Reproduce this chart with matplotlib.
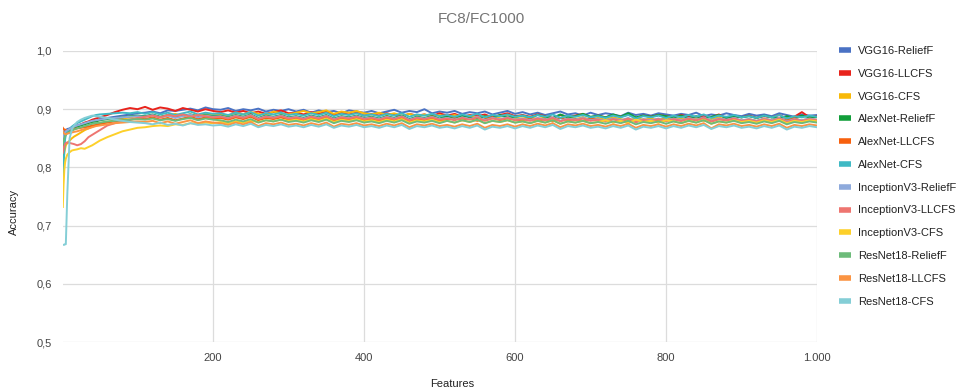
import numpy as np
import matplotlib
matplotlib.use("Agg")
import matplotlib.pyplot as plt
from matplotlib.lines import Line2D

# ---------------- data (accuracy in per-mille) ----------------
features_early = [1, 2, 3, 4, 5, 7, 10, 13, 16, 20, 25, 30, 35, 40, 45, 50, 60, 70, 80, 90, 100]
features_late = list(range(110, 1001, 10))
features = features_early + features_late

series_names = ["VGG16-ReliefF", "VGG16-LLCFS", "VGG16-CFS", "AlexNet-ReliefF", "AlexNet-LLCFS",
                "AlexNet-CFS", "InceptionV3-ReliefF", "InceptionV3-LLCFS", "InceptionV3-CFS",
                "ResNet18-ReliefF", "ResNet18-LLCFS", "ResNet18-CFS"]

vgg16_relieff = [858, 862, 860, 863, 864, 866, 867, 869, 870, 872, 874, 876, 878, 880, 879, 883, 885, 887, 889, 891, 893,
                 894, 896, 893, 898, 897, 899, 901, 898, 903, 900,
                 899, 902, 897, 900, 898, 901, 896, 899, 897, 900,
                 896, 899, 894, 898, 895, 897, 893, 898, 896, 894,
                 897, 893, 896, 899, 894, 897, 895, 900, 893, 896,
                 894, 897, 892, 895, 893, 896, 891, 894, 897, 892,
                 895, 891, 894, 890, 893, 896, 891, 893, 889, 894,
                 890, 893, 891, 888, 894, 890, 892, 889, 893, 891,
                 889, 892, 890, 894, 888, 891, 889, 893, 890, 888,
                 892, 889, 891, 888, 893, 890, 887, 891, 889, 890]
vgg16_llcfs = [845, 850, 853, 855, 858, 861, 864, 866, 868, 871, 874, 877, 879, 882, 884, 886, 890, 895, 899, 902, 900,
               904, 899, 903, 901, 897, 902, 899, 896, 900, 897,
               895, 898, 894, 897, 893, 896, 892, 895, 898, 893,
               894, 891, 895, 892, 896, 890, 893, 891, 894, 889,
               892, 889, 893, 890, 887, 892, 889, 891, 888, 893,
               889, 892, 887, 890, 888, 891, 886, 890, 893, 888,
               890, 887, 891, 888, 885, 890, 887, 889, 892, 886,
               889, 886, 890, 887, 891, 885, 889, 887, 890, 888,
               886, 890, 887, 885, 889, 886, 891, 884, 888, 886,
               889, 885, 888, 886, 890, 884, 887, 895, 886, 888]
vgg16_cfs = [790, 810, 825, 832, 838, 842, 846, 850, 853, 856, 860, 864, 867, 870, 872, 874, 878, 881, 884, 886, 888,
             887, 890, 886, 889, 892, 888, 891, 889, 893, 890,
             892, 889, 894, 891, 895, 892, 890, 896, 893, 891,
             894, 897, 893, 895, 898, 892, 896, 894, 897, 893,
             891, 894, 890, 893, 889, 892, 888, 891, 887, 890,
             887, 890, 886, 889, 885, 888, 884, 887, 890, 885,
             884, 887, 883, 886, 882, 885, 888, 883, 886, 882,
             885, 882, 886, 883, 880, 885, 882, 884, 881, 886,
             882, 885, 881, 884, 880, 883, 886, 881, 884, 880,
             883, 880, 884, 881, 885, 879, 883, 881, 884, 882]
alexnet_relieff = [810, 835, 848, 855, 859, 862, 864, 866, 868, 870, 872, 874, 876, 878, 879, 881, 883, 885, 886, 888, 889,
                   888, 891, 887, 890, 886, 889, 891, 887, 890, 888,
                   889, 886, 890, 887, 891, 885, 889, 887, 890, 886,
                   888, 885, 889, 886, 890, 884, 888, 886, 889, 885,
                   887, 884, 888, 885, 889, 883, 887, 885, 888, 884,
                   888, 885, 889, 886, 884, 888, 885, 890, 886, 887,
                   889, 886, 890, 887, 885, 891, 886, 888, 892, 887,
                   889, 886, 891, 887, 893, 886, 889, 887, 890, 888,
                   886, 889, 885, 888, 884, 887, 890, 885, 888, 886,
                   888, 885, 889, 886, 884, 888, 885, 889, 886, 887]
alexnet_llcfs = [868, 866, 865, 865, 864, 864, 865, 866, 866, 867, 868, 869, 870, 872, 873, 875, 877, 879, 881, 882, 884,
                 883, 886, 882, 885, 881, 884, 887, 883, 886, 884,
                 885, 882, 886, 883, 887, 881, 885, 883, 886, 882,
                 884, 881, 885, 882, 886, 880, 884, 882, 885, 881,
                 883, 880, 884, 881, 885, 879, 883, 881, 884, 880,
                 882, 885, 881, 884, 880, 883, 886, 881, 884, 882,
                 881, 884, 880, 883, 879, 885, 881, 883, 880, 884,
                 882, 879, 883, 880, 884, 878, 882, 880, 883, 881,
                 883, 880, 884, 881, 885, 879, 883, 881, 884, 880,
                 882, 879, 883, 880, 884, 881, 885, 879, 882, 881]
alexnet_cfs = [770, 800, 830, 848, 856, 862, 866, 870, 873, 876, 879, 882, 885, 888, 890, 891, 892, 893, 894, 893, 895,
               892, 895, 891, 894, 890, 893, 896, 891, 894, 892,
               893, 890, 894, 891, 895, 889, 893, 891, 894, 890,
               892, 889, 893, 890, 894, 888, 892, 890, 893, 889,
               891, 888, 892, 889, 893, 887, 891, 889, 892, 888,
               890, 887, 891, 888, 892, 886, 890, 888, 891, 887,
               889, 886, 890, 887, 891, 885, 889, 887, 890, 886,
               888, 885, 889, 886, 890, 884, 888, 886, 889, 885,
               889, 886, 890, 887, 891, 885, 889, 887, 890, 886,
               888, 885, 889, 886, 890, 884, 888, 886, 889, 887]
inceptionv3_relieff = [850, 855, 858, 860, 862, 864, 866, 868, 870, 872, 874, 876, 878, 880, 881, 882, 884, 885, 886, 887, 888,
                       887, 890, 886, 889, 885, 888, 891, 886, 889, 887,
                       888, 885, 889, 886, 890, 884, 888, 886, 889, 885,
                       887, 884, 888, 885, 889, 883, 887, 885, 888, 884,
                       886, 883, 887, 884, 888, 882, 886, 884, 887, 883,
                       885, 882, 886, 883, 887, 881, 885, 883, 886, 882,
                       884, 881, 885, 882, 886, 880, 884, 882, 885, 881,
                       883, 880, 884, 881, 885, 879, 883, 881, 884, 880,
                       884, 881, 885, 882, 886, 880, 884, 882, 885, 881,
                       883, 880, 884, 881, 885, 879, 883, 881, 884, 882]
inceptionv3_llcfs = [825, 832, 838, 840, 842, 843, 842, 841, 840, 838, 840, 845, 852, 856, 860, 864, 872, 876, 879, 882, 885,
                     887, 889, 886, 890, 888, 891, 887, 890, 888, 886,
                     887, 884, 888, 885, 889, 883, 887, 885, 888, 884,
                     886, 883, 887, 884, 888, 882, 886, 884, 887, 883,
                     885, 882, 886, 883, 887, 881, 885, 883, 886, 882,
                     884, 881, 885, 882, 886, 880, 884, 882, 885, 881,
                     883, 880, 884, 881, 885, 879, 883, 881, 884, 880,
                     882, 879, 883, 880, 884, 878, 882, 880, 883, 879,
                     883, 880, 884, 881, 885, 879, 883, 881, 884, 880,
                     882, 879, 883, 880, 884, 878, 882, 880, 883, 881]
inceptionv3_cfs = [732, 770, 795, 808, 815, 822, 826, 829, 830, 831, 833, 832, 835, 838, 842, 846, 852, 857, 862, 865, 868,
                   869, 871, 872, 871, 874, 873, 876, 875, 877, 876,
                   878, 876, 879, 877, 880, 878, 881, 879, 882, 880,
                   882, 879, 883, 880, 884, 878, 882, 880, 883, 879,
                   881, 878, 882, 879, 883, 877, 881, 879, 882, 878,
                   880, 877, 881, 878, 882, 876, 880, 878, 881, 877,
                   879, 876, 880, 877, 881, 875, 879, 877, 880, 876,
                   878, 881, 877, 880, 876, 882, 878, 880, 877, 881,
                   879, 876, 880, 877, 882, 875, 879, 877, 881, 878,
                   880, 877, 881, 878, 882, 876, 880, 878, 881, 879]
resnet18_relieff = [840, 846, 850, 853, 856, 859, 861, 863, 865, 867, 869, 871, 873, 875, 876, 877, 879, 880, 881, 882, 883,
                    882, 884, 881, 883, 880, 883, 885, 881, 884, 882,
                    881, 878, 882, 879, 883, 877, 881, 879, 882, 878,
                    880, 877, 881, 878, 882, 876, 880, 878, 881, 877,
                    879, 876, 880, 877, 881, 875, 879, 877, 880, 876,
                    880, 877, 881, 878, 882, 876, 880, 878, 881, 877,
                    879, 876, 880, 877, 881, 875, 879, 877, 880, 876,
                    878, 875, 879, 876, 880, 874, 878, 876, 879, 875,
                    879, 876, 880, 877, 881, 875, 879, 877, 880, 876,
                    878, 875, 879, 876, 880, 874, 878, 876, 879, 877]
resnet18_llcfs = [862, 860, 858, 857, 857, 858, 859, 860, 861, 862, 864, 866, 867, 869, 871, 872, 874, 876, 877, 878, 879,
                  878, 880, 876, 879, 875, 878, 881, 876, 879, 877,
                  876, 873, 877, 874, 878, 871, 876, 874, 877, 873,
                  875, 872, 876, 873, 877, 870, 875, 873, 876, 872,
                  874, 871, 875, 872, 876, 869, 874, 872, 875, 871,
                  873, 870, 874, 871, 875, 868, 873, 871, 874, 870,
                  874, 871, 875, 872, 876, 869, 874, 872, 875, 871,
                  873, 870, 874, 871, 875, 868, 873, 871, 874, 870,
                  874, 871, 875, 872, 876, 867, 874, 872, 875, 871,
                  873, 870, 874, 871, 875, 868, 873, 871, 874, 872]
resnet18_cfs = [667, 667, 667, 668, 668, 755, 850, 865, 872, 878, 882, 885, 887, 889, 888, 887, 885, 882, 880, 878, 877,
                876, 874, 877, 873, 875, 872, 876, 873, 874, 872,
                873, 870, 874, 871, 875, 869, 873, 871, 874, 870,
                872, 869, 873, 870, 874, 868, 872, 870, 873, 869,
                871, 868, 872, 869, 873, 866, 871, 869, 872, 868,
                870, 867, 871, 868, 872, 865, 870, 868, 871, 867,
                871, 868, 872, 869, 873, 866, 871, 869, 872, 868,
                870, 867, 871, 868, 872, 865, 870, 868, 871, 867,
                871, 868, 872, 869, 873, 866, 871, 869, 872, 868,
                870, 867, 871, 868, 872, 865, 870, 868, 871, 869]

series_values = [vgg16_relieff, vgg16_llcfs, vgg16_cfs, alexnet_relieff, alexnet_llcfs, alexnet_cfs,
                 inceptionv3_relieff, inceptionv3_llcfs, inceptionv3_cfs, resnet18_relieff, resnet18_llcfs,
                 resnet18_cfs]

colors = ["#4a72c4", "#e8231c", "#f8b908", "#119e3a", "#f7600e", "#3fb9c4",
          "#8eaadc", "#ee7570", "#fdd02a", "#6dbb7a", "#fb9443", "#84ced6"]

x_ticks = [200, 400, 600, 800, 1000]
x_tick_labels = ["200", "400", "600", "800", "1.000"]
y_ticks = [0.5, 0.6, 0.7, 0.8, 0.9, 1.0]
y_tick_labels = ["0,5", "0,6", "0,7", "0,8", "0,9", "1,0"]

# ---------------- figure ----------------
plt.rcParams['font.family'] = ['Liberation Sans', 'DejaVu Sans']
W, H = 960, 391
fig = plt.figure(figsize=(W / 100, H / 100), dpi=100)
ax = fig.add_axes([62.8 / W, 1 - 342 / H, (817 - 62.8) / W, (342 - 51) / H])

x = np.array(features)
for name, vals, c in zip(series_names, series_values, colors):
    ax.plot(x, np.array(vals) / 1000.0, color=c, lw=1.4, label=name, solid_joinstyle='round')

ax.set_xlim(1, 1000)
ax.set_ylim(0.5, 1.0)
ax.set_xticks(x_ticks)
ax.set_xticklabels(x_tick_labels)
ax.set_yticks(y_ticks)
ax.set_yticklabels(y_tick_labels)
ax.grid(True, color="#dcdcdc", lw=0.9)
ax.set_axisbelow(True)
for s in ax.spines.values():
    s.set_visible(False)
ax.tick_params(axis='both', length=0, labelsize=8, labelcolor="#444444")
ax.tick_params(axis='x', pad=8)
ax.tick_params(axis='y', pad=8)

fig.text(481 / W, 1 - 19 / H, "FC8/FC1000", ha='center', va='center', fontsize=11, color="#757575")
fig.text(452 / W, 1 - 384 / H, "Features", ha='center', va='center', fontsize=8, color="#222222")
fig.text(14 / W, 1 - 212 / H, "Accuracy", ha='center', va='center', rotation=90, fontsize=8, color="#222222")

handles = [Line2D([0], [0], color=c, lw=4, solid_capstyle='butt') for c in colors]
fig.legend(handles, series_names, loc='upper left', bbox_to_anchor=(839 / W, 1 - 46 / H),
           frameon=False, fontsize=8, handlelength=1.08, handletextpad=0.65, labelspacing=1.15,
           borderpad=0, borderaxespad=0, labelcolor="#222222")

fig.savefig("out.png", dpi=100)
